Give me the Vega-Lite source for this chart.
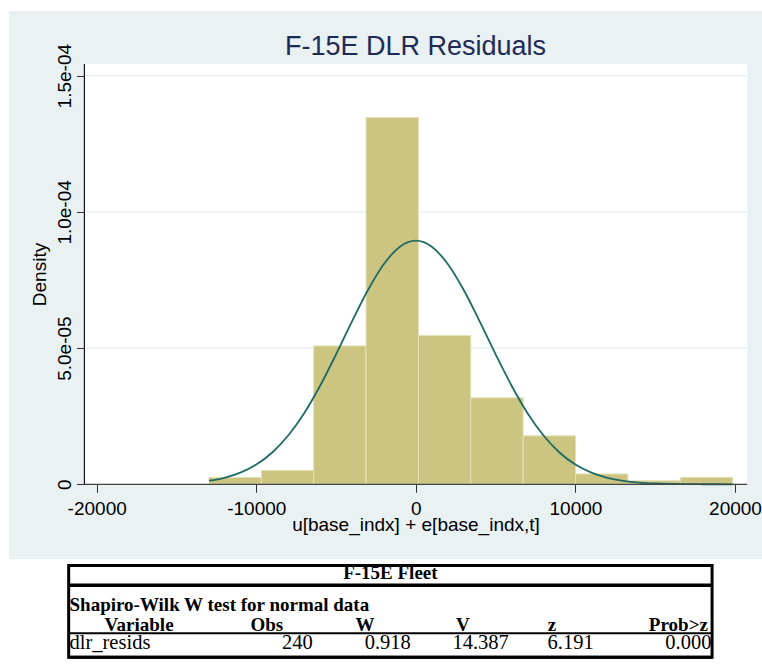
{
  "$schema": "https://vega.github.io/schema/vega-lite/v6.json",
  "background": "white",
  "padding": {"left": 9, "top": 11, "right": 0, "bottom": 0},
  "spacing": 2.5,
  "center": true,
  "config": {"font": "Liberation Sans"},
  "datasets": {
    "bins": [
      {"bin_start": -12963, "bin_end": -9682, "count": 2, "density": 2.54e-6},
      {"bin_start": -9682, "bin_end": -6401, "count": 4, "density": 5.08e-6},
      {"bin_start": -6401, "bin_end": -3120, "count": 40, "density": 5.080e-5},
      {"bin_start": -3120, "bin_end": 161, "count": 106, "density": 1.3461e-4},
      {"bin_start": 161, "bin_end": 3442, "count": 43, "density": 5.461e-5},
      {"bin_start": 3442, "bin_end": 6723, "count": 25, "density": 3.175e-5},
      {"bin_start": 6723, "bin_end": 10004, "count": 14, "density": 1.778e-5},
      {"bin_start": 10004, "bin_end": 13285, "count": 3, "density": 3.81e-6},
      {"bin_start": 13285, "bin_end": 16566, "count": 1, "density": 1.27e-6},
      {"bin_start": 16566, "bin_end": 19847, "count": 2, "density": 2.54e-6}
    ],
    "curve": [
      {"x": -12963, "density": 1.312e-6},
      {"x": -12000, "density": 2.400e-6},
      {"x": -11000, "density": 4.278e-6},
      {"x": -10000, "density": 7.250e-6},
      {"x": -9000, "density": 1.1685e-5},
      {"x": -8000, "density": 1.7913e-5},
      {"x": -7000, "density": 2.6111e-5},
      {"x": -6000, "density": 3.6197e-5},
      {"x": -5000, "density": 4.7720e-5},
      {"x": -4000, "density": 5.9825e-5},
      {"x": -3000, "density": 7.1330e-5},
      {"x": -2000, "density": 8.0879e-5},
      {"x": -1000, "density": 8.7211e-5},
      {"x": 0, "density": 8.943e-5},
      {"x": 1000, "density": 8.7211e-5},
      {"x": 2000, "density": 8.0879e-5},
      {"x": 3000, "density": 7.1330e-5},
      {"x": 4000, "density": 5.9825e-5},
      {"x": 5000, "density": 4.7720e-5},
      {"x": 6000, "density": 3.6197e-5},
      {"x": 7000, "density": 2.6111e-5},
      {"x": 8000, "density": 1.7913e-5},
      {"x": 9000, "density": 1.1685e-5},
      {"x": 10000, "density": 7.250e-6},
      {"x": 11000, "density": 4.278e-6},
      {"x": 12000, "density": 2.400e-6},
      {"x": 13000, "density": 1.281e-6},
      {"x": 14000, "density": 6.50e-7},
      {"x": 15000, "density": 3.14e-7},
      {"x": 16000, "density": 1.44e-7},
      {"x": 17000, "density": 6.3e-8},
      {"x": 18000, "density": 2.6e-8},
      {"x": 19000, "density": 1.0e-8},
      {"x": 19847, "density": 4.5e-9}
    ],
    "table": [
      {"row": "title", "col": "", "text": "F-15E Fleet"},
      {"row": "sw", "col": "", "text": "Shapiro-Wilk W test for normal data"},
      {"row": "header", "col": "Variable", "text": "Variable"},
      {"row": "header", "col": "Obs", "text": "Obs"},
      {"row": "header", "col": "W", "text": "W"},
      {"row": "header", "col": "V", "text": "V"},
      {"row": "header", "col": "z", "text": "z"},
      {"row": "header", "col": "Prob>z", "text": "Prob>z"},
      {"row": "data", "col": "Variable", "text": "dlr_resids"},
      {"row": "data", "col": "Obs", "text": "240"},
      {"row": "data", "col": "W", "text": "0.918"},
      {"row": "data", "col": "V", "text": "14.387"},
      {"row": "data", "col": "z", "text": "6.191"},
      {"row": "data", "col": "Prob>z", "text": "0.000"}
    ]
  },
  "vconcat": [
    {
      "width": 753,
      "height": 548,
      "view": {"fill": "#E9F1F3", "stroke": null},
      "title": {
        "text": "F-15E DLR Residuals",
        "font": "Liberation Sans",
        "fontSize": 27,
        "fontWeight": "normal",
        "color": "#1F2B57",
        "anchor": "middle",
        "frame": "group",
        "offset": -71,
        "baseline": "alphabetic",
        "dx": 30
      },
      "layer": [
        {
          "data": {"values": [{}]},
          "mark": {"type": "rect", "fill": "white"},
          "encoding": {
            "x": {"datum": -20770, "type": "quantitative", "scale": {"domain": [-25496, 21692], "nice": false, "zero": false}},
            "x2": {"datum": 20770},
            "y": {"datum": 0, "type": "quantitative", "scale": {"domain": [-2.7423e-5, 1.73752e-4], "nice": false, "zero": false}},
            "y2": {"datum": 1.543e-4}
          }
        },
        {
          "data": {"values": [{"tick": 5e-5}, {"tick": 1e-4}, {"tick": 1.5e-4}]},
          "mark": {"type": "rule", "color": "#E4EDF0", "strokeWidth": 1.3},
          "encoding": {
            "x": {"datum": -20770, "type": "quantitative", "scale": {"domain": [-25496, 21692], "nice": false, "zero": false}},
            "x2": {"datum": 20770},
            "y": {"field": "tick", "type": "quantitative", "scale": {"domain": [-2.7423e-5, 1.73752e-4], "nice": false, "zero": false}}
          }
        },
        {
          "data": {"name": "bins"},
          "mark": {"type": "rect", "fill": "#CCC481", "stroke": "#E4E0B6", "strokeWidth": 1},
          "encoding": {
            "x": {
              "field": "bin_start", "type": "quantitative",
              "scale": {"domain": [-25496, 21692], "nice": false, "zero": false},
              "axis": {
                "values": [-20000, -10000, 0, 10000, 20000],
                "labelExpr": "datum.value + ''",
                "offset": -74.7,
                "domain": false,
                "grid": false,
                "ticks": true,
                "tickSize": 8,
                "tickColor": "#333333",
                "tickWidth": 1,
                "labelFont": "Liberation Sans",
                "labelFontSize": 19,
                "labelColor": "black",
                "labelPadding": 7,
                "labelBaseline": "top",
                "labelFlush": false,
                "labelOverlap": false,
                "title": "u[base_indx] + e[base_indx,t]",
                "titleFont": "Liberation Sans",
                "titleFontSize": 19,
                "titleFontWeight": "normal",
                "titleColor": "black",
                "titleX": 406.5,
                "titleY": 46,
                "titleAlign": "center",
                "titleBaseline": "alphabetic",
                "zindex": 1
              }
            },
            "x2": {"field": "bin_end"},
            "y": {
              "field": "density", "type": "quantitative",
              "scale": {"domain": [-2.7423e-5, 1.73752e-4], "nice": false, "zero": false},
              "axis": {
                "values": [0, 5e-5, 1e-4, 1.5e-4],
                "labelExpr": "datum.value == 0 ? '0' : replace(format(datum.value, '.1e'), 'e-', 'e-0')",
                "offset": -75.5,
                "domain": false,
                "grid": false,
                "ticks": true,
                "tickSize": 8,
                "tickColor": "#333333",
                "tickWidth": 1,
                "labelFont": "Liberation Sans",
                "labelFontSize": 19,
                "labelColor": "black",
                "labelAngle": -90,
                "labelAlign": "center",
                "labelBaseline": "alphabetic",
                "labelPadding": 6.5,
                "labelFlush": false,
                "labelOverlap": false,
                "title": "Density",
                "titleFont": "Liberation Sans",
                "titleFontSize": 19,
                "titleFontWeight": "normal",
                "titleColor": "black",
                "titleAngle": -90,
                "titleX": -39,
                "titleY": 263,
                "titleAlign": "center",
                "titleBaseline": "alphabetic",
                "zindex": 1
              }
            },
            "y2": {"datum": 0}
          }
        },
        {
          "data": {"name": "curve"},
          "mark": {"type": "line", "color": "#1E6A64", "strokeWidth": 1.8, "interpolate": "monotone"},
          "encoding": {
            "x": {"field": "x", "type": "quantitative", "scale": {"domain": [-25496, 21692], "nice": false, "zero": false}},
            "y": {"field": "density", "type": "quantitative", "scale": {"domain": [-2.7423e-5, 1.73752e-4], "nice": false, "zero": false}}
          }
        },
        {
          "data": {"values": [{}]},
          "mark": {"type": "rule", "color": "#111111", "strokeWidth": 1.2},
          "encoding": {
            "x": {"datum": -20770, "type": "quantitative", "scale": {"domain": [-25496, 21692], "nice": false, "zero": false}},
            "y": {"datum": 0, "type": "quantitative", "scale": {"domain": [-2.7423e-5, 1.73752e-4], "nice": false, "zero": false}},
            "y2": {"datum": 1.543e-4}
          }
        },
        {
          "data": {"values": [{}]},
          "mark": {"type": "rule", "color": "#444444", "strokeWidth": 1.2},
          "encoding": {
            "x": {"datum": -20770, "type": "quantitative", "scale": {"domain": [-25496, 21692], "nice": false, "zero": false}},
            "x2": {"datum": 20770},
            "y": {"datum": 0, "type": "quantitative", "scale": {"domain": [-2.7423e-5, 1.73752e-4], "nice": false, "zero": false}}
          }
        }
      ]
    },
    {
      "hconcat": [
        {
          "width": 9,
          "height": 1,
          "view": {"stroke": null, "fill": null},
          "data": {"values": []},
          "mark": {"type": "rect"},
          "encoding": {}
        },
        {
          "width": 643.4,
          "height": 91.75,
          "view": {"stroke": "black", "strokeWidth": 3, "fill": "white"},
          "data": {"name": "table"},
          "layer": [
            {
              "data": {"values": [{}]},
              "mark": {"type": "rule", "color": "black", "strokeWidth": 3.5},
              "encoding": {
                "y": {"datum": "title", "type": "nominal", "bandPosition": 1, "scale": {"type": "band", "domain": ["title", "sw", "header", "data"], "range": [-4.25, 91.75], "paddingInner": 0, "paddingOuter": 0}, "axis": null}
              }
            },
            {
              "data": {"values": [{}]},
              "mark": {"type": "rule", "color": "black", "strokeWidth": 2},
              "encoding": {
                "y": {"datum": "header", "type": "nominal", "bandPosition": 1, "scale": {"type": "band", "domain": ["title", "sw", "header", "data"], "range": [-4.25, 91.75], "paddingInner": 0, "paddingOuter": 0}, "axis": null}
              }
            },
            {
              "data": {"values": [{}]},
              "mark": {"type": "rule", "color": "black", "strokeWidth": 3},
              "encoding": {
                "y": {"datum": "data", "type": "nominal", "bandPosition": 1, "scale": {"type": "band", "domain": ["title", "sw", "header", "data"], "range": [-4.25, 91.75], "paddingInner": 0, "paddingOuter": 0}, "axis": null}
              }
            },
            {
              "transform": [{"filter": "datum.row == 'title'"}],
              "mark": {"type": "text", "font": "Liberation Serif", "fontSize": 19, "fontWeight": "bold", "align": "center", "baseline": "alphabetic", "color": "black"},
              "encoding": {
                "y": {"field": "row", "type": "nominal", "bandPosition": 0.719, "scale": {"type": "band", "domain": ["title", "sw", "header", "data"], "range": [-4.25, 91.75], "paddingInner": 0, "paddingOuter": 0}, "axis": null},
                "text": {"field": "text"}
              }
            },
            {
              "transform": [{"filter": "datum.row == 'sw'"}],
              "mark": {"type": "text", "font": "Liberation Serif", "fontSize": 19, "fontWeight": "bold", "align": "left", "baseline": "alphabetic", "color": "black"},
              "encoding": {
                "x": {"datum": "Variable", "type": "nominal", "bandPosition": -0.47, "scale": {"type": "band", "domain": ["Variable", "Obs", "W", "V", "z", "Prob>z"], "range": [46.9, 634.9], "paddingInner": 0, "paddingOuter": 0}, "axis": null},
                "y": {"field": "row", "type": "nominal", "bandPosition": 1.08, "scale": {"type": "band", "domain": ["title", "sw", "header", "data"], "range": [-4.25, 91.75], "paddingInner": 0, "paddingOuter": 0}, "axis": null},
                "text": {"field": "text"}
              }
            },
            {
              "transform": [{"filter": "datum.row == 'header' && datum.col == 'Variable'"}],
              "mark": {"type": "text", "font": "Liberation Serif", "fontSize": 19, "fontWeight": "bold", "align": "center", "baseline": "alphabetic", "color": "black"},
              "encoding": {
                "x": {"field": "col", "type": "nominal", "bandPosition": 0.24, "scale": {"type": "band", "domain": ["Variable", "Obs", "W", "V", "z", "Prob>z"], "range": [46.9, 634.9], "paddingInner": 0, "paddingOuter": 0}, "axis": null},
                "y": {"field": "row", "type": "nominal", "bandPosition": 0.9, "scale": {"type": "band", "domain": ["title", "sw", "header", "data"], "range": [-4.25, 91.75], "paddingInner": 0, "paddingOuter": 0}, "axis": null},
                "text": {"field": "text"}
              }
            },
            {
              "transform": [{"filter": "datum.row == 'header' && (datum.col == 'Obs' || datum.col == 'W' || datum.col == 'V')"}],
              "mark": {"type": "text", "font": "Liberation Serif", "fontSize": 19, "fontWeight": "bold", "align": "center", "baseline": "alphabetic", "color": "black"},
              "encoding": {
                "x": {"field": "col", "type": "nominal", "bandPosition": 0.544, "scale": {"type": "band", "domain": ["Variable", "Obs", "W", "V", "z", "Prob>z"], "range": [46.9, 634.9], "paddingInner": 0, "paddingOuter": 0}, "axis": null},
                "y": {"field": "row", "type": "nominal", "bandPosition": 0.9, "scale": {"type": "band", "domain": ["title", "sw", "header", "data"], "range": [-4.25, 91.75], "paddingInner": 0, "paddingOuter": 0}, "axis": null},
                "text": {"field": "text"}
              }
            },
            {
              "transform": [{"filter": "datum.row == 'header' && datum.col == 'z'"}],
              "mark": {"type": "text", "font": "Liberation Serif", "fontSize": 19, "fontWeight": "bold", "align": "center", "baseline": "alphabetic", "color": "black"},
              "encoding": {
                "x": {"field": "col", "type": "nominal", "bandPosition": 0.454, "scale": {"type": "band", "domain": ["Variable", "Obs", "W", "V", "z", "Prob>z"], "range": [46.9, 634.9], "paddingInner": 0, "paddingOuter": 0}, "axis": null},
                "y": {"field": "row", "type": "nominal", "bandPosition": 0.9, "scale": {"type": "band", "domain": ["title", "sw", "header", "data"], "range": [-4.25, 91.75], "paddingInner": 0, "paddingOuter": 0}, "axis": null},
                "text": {"field": "text"}
              }
            },
            {
              "transform": [{"filter": "datum.row == 'header' && datum.col == 'Prob>z'"}],
              "mark": {"type": "text", "font": "Liberation Serif", "fontSize": 19, "fontWeight": "bold", "align": "center", "baseline": "alphabetic", "color": "black"},
              "encoding": {
                "x": {"field": "col", "type": "nominal", "bandPosition": 0.743, "scale": {"type": "band", "domain": ["Variable", "Obs", "W", "V", "z", "Prob>z"], "range": [46.9, 634.9], "paddingInner": 0, "paddingOuter": 0}, "axis": null},
                "y": {"field": "row", "type": "nominal", "bandPosition": 0.9, "scale": {"type": "band", "domain": ["title", "sw", "header", "data"], "range": [-4.25, 91.75], "paddingInner": 0, "paddingOuter": 0}, "axis": null},
                "text": {"field": "text"}
              }
            },
            {
              "transform": [{"filter": "datum.row == 'data' && datum.col == 'Variable'"}],
              "mark": {"type": "text", "font": "Liberation Serif", "fontSize": 20.5, "align": "left", "baseline": "alphabetic", "color": "black"},
              "encoding": {
                "x": {"field": "col", "type": "nominal", "bandPosition": -0.47, "scale": {"type": "band", "domain": ["Variable", "Obs", "W", "V", "z", "Prob>z"], "range": [46.9, 634.9], "paddingInner": 0, "paddingOuter": 0}, "axis": null},
                "y": {"field": "row", "type": "nominal", "bandPosition": 0.66, "scale": {"type": "band", "domain": ["title", "sw", "header", "data"], "range": [-4.25, 91.75], "paddingInner": 0, "paddingOuter": 0}, "axis": null},
                "text": {"field": "text"}
              }
            },
            {
              "transform": [{"filter": "datum.row == 'data' && (datum.col == 'Obs' || datum.col == 'W' || datum.col == 'V')"}],
              "mark": {"type": "text", "font": "Liberation Serif", "fontSize": 20.5, "align": "right", "baseline": "alphabetic", "color": "black"},
              "encoding": {
                "x": {"field": "col", "type": "nominal", "bandPosition": 1.013, "scale": {"type": "band", "domain": ["Variable", "Obs", "W", "V", "z", "Prob>z"], "range": [46.9, 634.9], "paddingInner": 0, "paddingOuter": 0}, "axis": null},
                "y": {"field": "row", "type": "nominal", "bandPosition": 0.66, "scale": {"type": "band", "domain": ["title", "sw", "header", "data"], "range": [-4.25, 91.75], "paddingInner": 0, "paddingOuter": 0}, "axis": null},
                "text": {"field": "text"}
              }
            },
            {
              "transform": [{"filter": "datum.row == 'data' && datum.col == 'z'"}],
              "mark": {"type": "text", "font": "Liberation Serif", "fontSize": 20.5, "align": "right", "baseline": "alphabetic", "color": "black"},
              "encoding": {
                "x": {"field": "col", "type": "nominal", "bandPosition": 0.879, "scale": {"type": "band", "domain": ["Variable", "Obs", "W", "V", "z", "Prob>z"], "range": [46.9, 634.9], "paddingInner": 0, "paddingOuter": 0}, "axis": null},
                "y": {"field": "row", "type": "nominal", "bandPosition": 0.66, "scale": {"type": "band", "domain": ["title", "sw", "header", "data"], "range": [-4.25, 91.75], "paddingInner": 0, "paddingOuter": 0}, "axis": null},
                "text": {"field": "text"}
              }
            },
            {
              "transform": [{"filter": "datum.row == 'data' && datum.col == 'Prob>z'"}],
              "mark": {"type": "text", "font": "Liberation Serif", "fontSize": 20.5, "align": "right", "baseline": "alphabetic", "color": "black"},
              "encoding": {
                "x": {"field": "col", "type": "nominal", "bandPosition": 1.08, "scale": {"type": "band", "domain": ["Variable", "Obs", "W", "V", "z", "Prob>z"], "range": [46.9, 634.9], "paddingInner": 0, "paddingOuter": 0}, "axis": null},
                "y": {"field": "row", "type": "nominal", "bandPosition": 0.66, "scale": {"type": "band", "domain": ["title", "sw", "header", "data"], "range": [-4.25, 91.75], "paddingInner": 0, "paddingOuter": 0}, "axis": null},
                "text": {"field": "text"}
              }
            }
          ]
        }
      ],
      "spacing": 0
    }
  ]
}
